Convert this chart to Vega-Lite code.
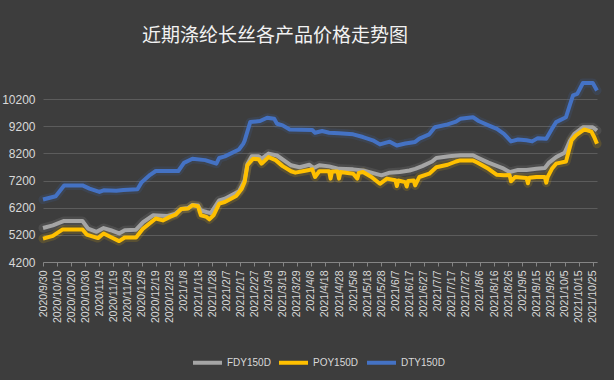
{
"$schema": "https://vega.github.io/schema/vega-lite/v6.json",
"width": 554, "height": 182,
"autosize": {"type": "none"},
"padding": {"left": 43, "top": 80, "right": 17, "bottom": 118},
"background": "#3d3d3d",
"config": {"view": {"stroke": null}},
"title": {"text": "近期涤纶长丝各产品价格走势图", "font": "Noto Sans CJK SC", "fontSize": 19, "fontWeight": "normal", "color": "#f2f2f2", "anchor": "start", "frame": "group", "dx": 99, "offset": 32},
"data": {"format": {"parse": {"date": "date:'%Y-%m-%d'"}}, "values": [
{"date":"2020-09-30","series":"FDY150D","price":5450},
{"date":"2020-10-07","series":"FDY150D","price":5550},
{"date":"2020-10-15","series":"FDY150D","price":5710},
{"date":"2020-10-28","series":"FDY150D","price":5710},
{"date":"2020-11-01","series":"FDY150D","price":5430},
{"date":"2020-11-07","series":"FDY150D","price":5310},
{"date":"2020-11-12","series":"FDY150D","price":5450},
{"date":"2020-11-17","series":"FDY150D","price":5370},
{"date":"2020-11-23","series":"FDY150D","price":5250},
{"date":"2020-11-27","series":"FDY150D","price":5370},
{"date":"2020-12-05","series":"FDY150D","price":5390},
{"date":"2020-12-10","series":"FDY150D","price":5670},
{"date":"2020-12-17","series":"FDY150D","price":5920},
{"date":"2020-12-27","series":"FDY150D","price":5890},
{"date":"2021-01-02","series":"FDY150D","price":5980},
{"date":"2021-01-06","series":"FDY150D","price":6150},
{"date":"2021-01-11","series":"FDY150D","price":6190},
{"date":"2021-01-14","series":"FDY150D","price":6300},
{"date":"2021-01-18","series":"FDY150D","price":6280},
{"date":"2021-01-20","series":"FDY150D","price":6100},
{"date":"2021-01-24","series":"FDY150D","price":6040},
{"date":"2021-01-27","series":"FDY150D","price":6000},
{"date":"2021-02-02","series":"FDY150D","price":6470},
{"date":"2021-02-06","series":"FDY150D","price":6530},
{"date":"2021-02-16","series":"FDY150D","price":6800},
{"date":"2021-02-20","series":"FDY150D","price":7200},
{"date":"2021-02-22","series":"FDY150D","price":7800},
{"date":"2021-02-25","series":"FDY150D","price":8090},
{"date":"2021-03-02","series":"FDY150D","price":8090},
{"date":"2021-03-04","series":"FDY150D","price":8000},
{"date":"2021-03-09","series":"FDY150D","price":8190},
{"date":"2021-03-15","series":"FDY150D","price":8120},
{"date":"2021-03-20","series":"FDY150D","price":7940},
{"date":"2021-03-25","series":"FDY150D","price":7760},
{"date":"2021-03-31","series":"FDY150D","price":7690},
{"date":"2021-04-07","series":"FDY150D","price":7780},
{"date":"2021-04-10","series":"FDY150D","price":7660},
{"date":"2021-04-14","series":"FDY150D","price":7760},
{"date":"2021-04-21","series":"FDY150D","price":7720},
{"date":"2021-04-28","series":"FDY150D","price":7630},
{"date":"2021-05-08","series":"FDY150D","price":7610},
{"date":"2021-05-15","series":"FDY150D","price":7570},
{"date":"2021-05-21","series":"FDY150D","price":7490},
{"date":"2021-05-28","series":"FDY150D","price":7390},
{"date":"2021-06-03","series":"FDY150D","price":7490},
{"date":"2021-06-10","series":"FDY150D","price":7510},
{"date":"2021-06-17","series":"FDY150D","price":7570},
{"date":"2021-06-21","series":"FDY150D","price":7630},
{"date":"2021-06-26","series":"FDY150D","price":7730},
{"date":"2021-07-03","series":"FDY150D","price":7900},
{"date":"2021-07-06","series":"FDY150D","price":8030},
{"date":"2021-07-15","series":"FDY150D","price":8090},
{"date":"2021-07-23","series":"FDY150D","price":8130},
{"date":"2021-08-01","series":"FDY150D","price":8130},
{"date":"2021-08-05","series":"FDY150D","price":8030},
{"date":"2021-08-12","series":"FDY150D","price":7860},
{"date":"2021-08-17","series":"FDY150D","price":7760},
{"date":"2021-08-22","series":"FDY150D","price":7660},
{"date":"2021-08-27","series":"FDY150D","price":7510},
{"date":"2021-09-02","series":"FDY150D","price":7590},
{"date":"2021-09-08","series":"FDY150D","price":7590},
{"date":"2021-09-15","series":"FDY150D","price":7630},
{"date":"2021-09-21","series":"FDY150D","price":7660},
{"date":"2021-09-24","series":"FDY150D","price":7860},
{"date":"2021-09-29","series":"FDY150D","price":8060},
{"date":"2021-10-05","series":"FDY150D","price":8220},
{"date":"2021-10-09","series":"FDY150D","price":8680},
{"date":"2021-10-12","series":"FDY150D","price":8920},
{"date":"2021-10-18","series":"FDY150D","price":9160},
{"date":"2021-10-25","series":"FDY150D","price":9160},
{"date":"2021-10-28","series":"FDY150D","price":9040},
{"date":"2020-09-30","series":"POY150D","price":5060},
{"date":"2020-10-07","series":"POY150D","price":5160},
{"date":"2020-10-14","series":"POY150D","price":5400},
{"date":"2020-10-28","series":"POY150D","price":5400},
{"date":"2020-10-31","series":"POY150D","price":5210},
{"date":"2020-11-08","series":"POY150D","price":5080},
{"date":"2020-11-12","series":"POY150D","price":5250},
{"date":"2020-11-17","series":"POY150D","price":5120},
{"date":"2020-11-23","series":"POY150D","price":4970},
{"date":"2020-11-27","series":"POY150D","price":5100},
{"date":"2020-12-05","series":"POY150D","price":5100},
{"date":"2020-12-10","series":"POY150D","price":5430},
{"date":"2020-12-19","series":"POY150D","price":5800},
{"date":"2020-12-24","series":"POY150D","price":5730},
{"date":"2020-12-29","series":"POY150D","price":5860},
{"date":"2021-01-02","series":"POY150D","price":5940},
{"date":"2021-01-06","series":"POY150D","price":6150},
{"date":"2021-01-11","series":"POY150D","price":6170},
{"date":"2021-01-14","series":"POY150D","price":6290},
{"date":"2021-01-18","series":"POY150D","price":6250},
{"date":"2021-01-20","series":"POY150D","price":5920},
{"date":"2021-01-24","series":"POY150D","price":5860},
{"date":"2021-01-26","series":"POY150D","price":5770},
{"date":"2021-01-29","series":"POY150D","price":5920},
{"date":"2021-02-02","series":"POY150D","price":6350},
{"date":"2021-02-06","series":"POY150D","price":6410},
{"date":"2021-02-14","series":"POY150D","price":6630},
{"date":"2021-02-18","series":"POY150D","price":6900},
{"date":"2021-02-20","series":"POY150D","price":7140},
{"date":"2021-02-22","series":"POY150D","price":7760},
{"date":"2021-02-26","series":"POY150D","price":8000},
{"date":"2021-03-02","series":"POY150D","price":7980},
{"date":"2021-03-04","series":"POY150D","price":7820},
{"date":"2021-03-09","series":"POY150D","price":8060},
{"date":"2021-03-14","series":"POY150D","price":7950},
{"date":"2021-03-19","series":"POY150D","price":7730},
{"date":"2021-03-25","series":"POY150D","price":7540},
{"date":"2021-03-28","series":"POY150D","price":7490},
{"date":"2021-04-05","series":"POY150D","price":7570},
{"date":"2021-04-09","series":"POY150D","price":7610},
{"date":"2021-04-11","series":"POY150D","price":7330},
{"date":"2021-04-14","series":"POY150D","price":7540},
{"date":"2021-04-21","series":"POY150D","price":7540},
{"date":"2021-04-22","series":"POY150D","price":7270},
{"date":"2021-04-23","series":"POY150D","price":7530},
{"date":"2021-04-27","series":"POY150D","price":7530},
{"date":"2021-04-28","series":"POY150D","price":7270},
{"date":"2021-04-29","series":"POY150D","price":7510},
{"date":"2021-05-08","series":"POY150D","price":7450},
{"date":"2021-05-11","series":"POY150D","price":7270},
{"date":"2021-05-12","series":"POY150D","price":7480},
{"date":"2021-05-15","series":"POY150D","price":7510},
{"date":"2021-05-21","series":"POY150D","price":7330},
{"date":"2021-05-27","series":"POY150D","price":7080},
{"date":"2021-06-01","series":"POY150D","price":7270},
{"date":"2021-06-07","series":"POY150D","price":7210},
{"date":"2021-06-08","series":"POY150D","price":7000},
{"date":"2021-06-09","series":"POY150D","price":7200},
{"date":"2021-06-14","series":"POY150D","price":7140},
{"date":"2021-06-15","series":"POY150D","price":6980},
{"date":"2021-06-16","series":"POY150D","price":7180},
{"date":"2021-06-20","series":"POY150D","price":7200},
{"date":"2021-06-21","series":"POY150D","price":7020},
{"date":"2021-06-24","series":"POY150D","price":7330},
{"date":"2021-07-01","series":"POY150D","price":7450},
{"date":"2021-07-06","series":"POY150D","price":7690},
{"date":"2021-07-14","series":"POY150D","price":7780},
{"date":"2021-07-20","series":"POY150D","price":7900},
{"date":"2021-07-23","series":"POY150D","price":7940},
{"date":"2021-08-01","series":"POY150D","price":7940},
{"date":"2021-08-04","series":"POY150D","price":7860},
{"date":"2021-08-12","series":"POY150D","price":7630},
{"date":"2021-08-18","series":"POY150D","price":7410},
{"date":"2021-08-23","series":"POY150D","price":7390},
{"date":"2021-08-27","series":"POY150D","price":7400},
{"date":"2021-08-28","series":"POY150D","price":7170},
{"date":"2021-08-31","series":"POY150D","price":7330},
{"date":"2021-09-08","series":"POY150D","price":7290},
{"date":"2021-09-09","series":"POY150D","price":7100},
{"date":"2021-09-10","series":"POY150D","price":7300},
{"date":"2021-09-15","series":"POY150D","price":7330},
{"date":"2021-09-21","series":"POY150D","price":7330},
{"date":"2021-09-22","series":"POY150D","price":7120},
{"date":"2021-09-23","series":"POY150D","price":7330},
{"date":"2021-09-26","series":"POY150D","price":7630},
{"date":"2021-09-29","series":"POY150D","price":7820},
{"date":"2021-10-06","series":"POY150D","price":7900},
{"date":"2021-10-10","series":"POY150D","price":8680},
{"date":"2021-10-13","series":"POY150D","price":8860},
{"date":"2021-10-19","series":"POY150D","price":9080},
{"date":"2021-10-24","series":"POY150D","price":9000},
{"date":"2021-10-26","series":"POY150D","price":8800},
{"date":"2021-10-28","series":"POY150D","price":8550},
{"date":"2020-09-30","series":"DTY150D","price":6500},
{"date":"2020-10-09","series":"DTY150D","price":6620},
{"date":"2020-10-15","series":"DTY150D","price":7020},
{"date":"2020-10-28","series":"DTY150D","price":7020},
{"date":"2020-11-02","series":"DTY150D","price":6900},
{"date":"2020-11-09","series":"DTY150D","price":6780},
{"date":"2020-11-12","series":"DTY150D","price":6840},
{"date":"2020-11-21","series":"DTY150D","price":6820},
{"date":"2020-11-26","series":"DTY150D","price":6850},
{"date":"2020-12-06","series":"DTY150D","price":6880},
{"date":"2020-12-09","series":"DTY150D","price":7140},
{"date":"2020-12-15","series":"DTY150D","price":7410},
{"date":"2020-12-19","series":"DTY150D","price":7550},
{"date":"2021-01-04","series":"DTY150D","price":7550},
{"date":"2021-01-08","series":"DTY150D","price":7850},
{"date":"2021-01-14","series":"DTY150D","price":8000},
{"date":"2021-01-23","series":"DTY150D","price":7950},
{"date":"2021-01-31","series":"DTY150D","price":7820},
{"date":"2021-02-02","series":"DTY150D","price":8030},
{"date":"2021-02-06","series":"DTY150D","price":8090},
{"date":"2021-02-16","series":"DTY150D","price":8340},
{"date":"2021-02-19","series":"DTY150D","price":8550},
{"date":"2021-02-20","series":"DTY150D","price":8660},
{"date":"2021-02-24","series":"DTY150D","price":9350},
{"date":"2021-03-03","series":"DTY150D","price":9390},
{"date":"2021-03-08","series":"DTY150D","price":9510},
{"date":"2021-03-13","series":"DTY150D","price":9470},
{"date":"2021-03-15","series":"DTY150D","price":9290},
{"date":"2021-03-19","series":"DTY150D","price":9230},
{"date":"2021-03-24","series":"DTY150D","price":9080},
{"date":"2021-04-09","series":"DTY150D","price":9060},
{"date":"2021-04-11","series":"DTY150D","price":8960},
{"date":"2021-04-16","series":"DTY150D","price":9020},
{"date":"2021-04-21","series":"DTY150D","price":8960},
{"date":"2021-04-28","series":"DTY150D","price":8940},
{"date":"2021-05-08","series":"DTY150D","price":8900},
{"date":"2021-05-15","series":"DTY150D","price":8800},
{"date":"2021-05-22","series":"DTY150D","price":8680},
{"date":"2021-05-27","series":"DTY150D","price":8530},
{"date":"2021-06-03","series":"DTY150D","price":8630},
{"date":"2021-06-08","series":"DTY150D","price":8490},
{"date":"2021-06-14","series":"DTY150D","price":8560},
{"date":"2021-06-21","series":"DTY150D","price":8620},
{"date":"2021-06-24","series":"DTY150D","price":8740},
{"date":"2021-07-01","series":"DTY150D","price":8900},
{"date":"2021-07-05","series":"DTY150D","price":9160},
{"date":"2021-07-13","series":"DTY150D","price":9250},
{"date":"2021-07-20","series":"DTY150D","price":9370},
{"date":"2021-07-23","series":"DTY150D","price":9470},
{"date":"2021-08-01","series":"DTY150D","price":9530},
{"date":"2021-08-05","series":"DTY150D","price":9390},
{"date":"2021-08-12","series":"DTY150D","price":9230},
{"date":"2021-08-18","series":"DTY150D","price":9100},
{"date":"2021-08-23","series":"DTY150D","price":8920},
{"date":"2021-08-28","series":"DTY150D","price":8640},
{"date":"2021-09-02","series":"DTY150D","price":8710},
{"date":"2021-09-08","series":"DTY150D","price":8680},
{"date":"2021-09-12","series":"DTY150D","price":8640},
{"date":"2021-09-16","series":"DTY150D","price":8760},
{"date":"2021-09-22","series":"DTY150D","price":8740},
{"date":"2021-09-26","series":"DTY150D","price":9100},
{"date":"2021-09-29","series":"DTY150D","price":9350},
{"date":"2021-10-06","series":"DTY150D","price":9530},
{"date":"2021-10-09","series":"DTY150D","price":10020},
{"date":"2021-10-11","series":"DTY150D","price":10330},
{"date":"2021-10-14","series":"DTY150D","price":10390},
{"date":"2021-10-18","series":"DTY150D","price":10790},
{"date":"2021-10-25","series":"DTY150D","price":10790},
{"date":"2021-10-28","series":"DTY150D","price":10510}
]},
"encoding": {
  "x": {"field": "date", "type": "temporal",
    "scale": {"domain": [{"year": 2020, "month": 9, "date": 30}, {"year": 2021, "month": 10, "date": 28}]},
    "axis": {"title": null, "grid": false, "format": "%Y/%-m/%-d", "labelAngle": -90, "labelFontSize": 10.5, "labelFont": "Liberation Sans", "labelColor": "#d9d9d9", "labelPadding": 4, "labelOverlap": false, "labelBound": false, "labelFlush": false, "domainColor": "#858585", "tickColor": "#858585", "tickSize": 4,
      "values": [
        {"year": 2020, "month": 9, "date": 30}, {"year": 2020, "month": 10, "date": 10}, {"year": 2020, "month": 10, "date": 20}, {"year": 2020, "month": 10, "date": 30},
        {"year": 2020, "month": 11, "date": 9}, {"year": 2020, "month": 11, "date": 19}, {"year": 2020, "month": 11, "date": 29}, {"year": 2020, "month": 12, "date": 9},
        {"year": 2020, "month": 12, "date": 19}, {"year": 2020, "month": 12, "date": 29}, {"year": 2021, "month": 1, "date": 8}, {"year": 2021, "month": 1, "date": 18},
        {"year": 2021, "month": 1, "date": 28}, {"year": 2021, "month": 2, "date": 7}, {"year": 2021, "month": 2, "date": 17}, {"year": 2021, "month": 2, "date": 27},
        {"year": 2021, "month": 3, "date": 9}, {"year": 2021, "month": 3, "date": 19}, {"year": 2021, "month": 3, "date": 29}, {"year": 2021, "month": 4, "date": 8},
        {"year": 2021, "month": 4, "date": 18}, {"year": 2021, "month": 4, "date": 28}, {"year": 2021, "month": 5, "date": 8}, {"year": 2021, "month": 5, "date": 18},
        {"year": 2021, "month": 5, "date": 28}, {"year": 2021, "month": 6, "date": 7}, {"year": 2021, "month": 6, "date": 17}, {"year": 2021, "month": 6, "date": 27},
        {"year": 2021, "month": 7, "date": 7}, {"year": 2021, "month": 7, "date": 17}, {"year": 2021, "month": 7, "date": 27}, {"year": 2021, "month": 8, "date": 6},
        {"year": 2021, "month": 8, "date": 16}, {"year": 2021, "month": 8, "date": 26}, {"year": 2021, "month": 9, "date": 5}, {"year": 2021, "month": 9, "date": 15},
        {"year": 2021, "month": 9, "date": 25}, {"year": 2021, "month": 10, "date": 5}, {"year": 2021, "month": 10, "date": 15}, {"year": 2021, "month": 10, "date": 25}
      ]}},
  "y": {"field": "price", "type": "quantitative",
    "scale": {"domain": [4200, 10900], "nice": false, "zero": false},
    "axis": {"title": null, "values": [4200, 5200, 6200, 7200, 8200, 9200, 10200], "format": "d", "grid": true, "gridColor": "#5c5c5c", "gridWidth": 1, "domain": false, "ticks": false, "labelColor": "#d9d9d9", "labelFontSize": 12, "labelFont": "Liberation Sans", "labelPadding": 8}},
  "color": {"field": "series", "type": "nominal",
    "scale": {"domain": ["FDY150D", "POY150D", "DTY150D"], "range": ["#a5a5a5", "#ffc000", "#4472c4"]},
    "legend": {"orient": "none", "legendX": 148, "legendY": 266, "direction": "horizontal", "title": null, "symbolType": "stroke", "symbolStrokeWidth": 4, "symbolSize": 841, "symbolOpacity": 1, "labelColor": "#d9d9d9", "labelFontSize": 10, "labelFont": "Liberation Sans", "labelOffset": 3, "columnPadding": 0}}
},
"layer": [
  {"mark": {"type": "line", "strokeWidth": 9, "opacity": 0.15, "strokeJoin": "round", "strokeCap": "round"}},
  {"mark": {"type": "line", "strokeWidth": 4, "strokeJoin": "round"}}
]
}
